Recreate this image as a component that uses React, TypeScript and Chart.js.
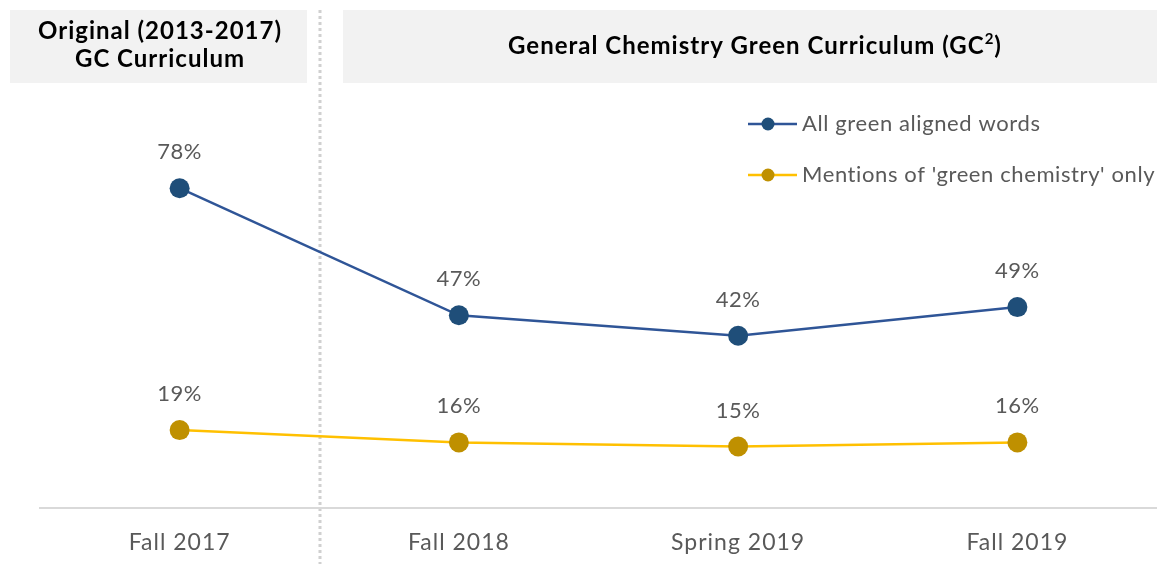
import React, { useEffect, useRef } from "react";
import { Chart, registerables } from "chart.js";

Chart.register(...registerables);

const categories = ["Fall 2017", "Fall 2018", "Spring 2019", "Fall 2019"];
const allGreenWords = [78, 47, 42, 49];
const greenChemistryOnly = [19, 16, 15, 16];
const seriesNames = ["All green aligned words", "Mentions of 'green chemistry' only"];
const headerLeft = ["Original (2013-2017)", "GC Curriculum"];
const headerRight = "General Chemistry Green Curriculum (GC";

const FONT = "Lato, 'Noto Sans', sans-serif";
const LINE_COLORS = ["#2f5597", "#ffc000"];
const MARKER_COLORS = ["#1f4e79", "#bf9000"];

const decorPlugin = {
  id: "decor",
  beforeDraw(chart: any) {
    const ctx = chart.ctx;
    ctx.save();
    // header boxes
    ctx.fillStyle = "#f2f2f2";
    ctx.fillRect(10, 10, 297, 73);
    ctx.fillRect(343, 10, 814, 73);
    ctx.fillStyle = "#000000";
    ctx.letterSpacing = "1px";
    ctx.font = `bold 24px ${FONT}`;
    ctx.textAlign = "center";
    ctx.textBaseline = "middle";
    ctx.fillText(headerLeft[0], 160, 31);
    ctx.fillText(headerLeft[1], 160, 59);
    // right header with superscript
    ctx.textAlign = "left";
    const mainW = ctx.measureText(headerRight).width;
    ctx.font = `bold 15px ${FONT}`;
    const supW = ctx.measureText("2").width;
    ctx.font = `bold 24px ${FONT}`;
    const closeW = ctx.measureText(")").width;
    const total = mainW + supW + closeW;
    const x0 = 755 - total / 2;
    ctx.fillText(headerRight, x0, 46);
    ctx.font = `bold 15px ${FONT}`;
    ctx.fillText("2", x0 + mainW, 39);
    ctx.font = `bold 24px ${FONT}`;
    ctx.fillText(")", x0 + mainW + supW, 46);
    // dotted divider
    ctx.strokeStyle = "#d0d0d0";
    ctx.lineWidth = 3;
    ctx.setLineDash([3, 3]);
    ctx.beginPath();
    ctx.moveTo(320, 10);
    ctx.lineTo(320, 564);
    ctx.stroke();
    ctx.setLineDash([]);
    // legend
    const legendY = [124, 175];
    ctx.letterSpacing = "0.6px";
    ctx.font = `22px ${FONT}`;
    ctx.textBaseline = "middle";
    ctx.textAlign = "left";
    for (let i = 0; i < 2; i++) {
      ctx.strokeStyle = LINE_COLORS[i];
      ctx.lineWidth = 2.5;
      ctx.beginPath();
      ctx.moveTo(748, legendY[i]);
      ctx.lineTo(797, legendY[i]);
      ctx.stroke();
      ctx.fillStyle = MARKER_COLORS[i];
      ctx.beginPath();
      ctx.arc(768, legendY[i], 6.5, 0, Math.PI * 2);
      ctx.fill();
      ctx.fillStyle = "#595959";
      ctx.fillText(seriesNames[i], 802, legendY[i]);
    }
    ctx.restore();
    // letter spacing for axis tick labels
    ctx.letterSpacing = "1px";
  },
  afterDatasetsDraw(chart: any) {
    const ctx = chart.ctx;
    ctx.save();
    ctx.letterSpacing = "0.5px";
    ctx.font = `22px ${FONT}`;
    ctx.fillStyle = "#595959";
    ctx.textAlign = "center";
    ctx.textBaseline = "middle";
    chart.data.datasets.forEach((ds: any, di: number) => {
      const meta = chart.getDatasetMeta(di);
      meta.data.forEach((pt: any, i: number) => {
        ctx.fillText(`${ds.data[i]}%`, pt.x, pt.y - 36);
      });
    });
    ctx.restore();
    ctx.letterSpacing = "0px";
  },
};

export default function App() {
  const ref = useRef<HTMLCanvasElement>(null);
  useEffect(() => {
    if (!ref.current) return;
    const chart = new Chart(ref.current, {
      type: "line",
      data: {
        labels: categories,
        datasets: [
          {
            label: seriesNames[0],
            data: allGreenWords,
            borderColor: LINE_COLORS[0],
            backgroundColor: MARKER_COLORS[0],
            pointBackgroundColor: MARKER_COLORS[0],
            pointBorderColor: MARKER_COLORS[0],
            pointRadius: 10,
            pointBorderWidth: 0,
            borderWidth: 2.5,
            tension: 0,
            clip: false,
          },
          {
            label: seriesNames[1],
            data: greenChemistryOnly,
            borderColor: LINE_COLORS[1],
            backgroundColor: MARKER_COLORS[1],
            pointBackgroundColor: MARKER_COLORS[1],
            pointBorderColor: MARKER_COLORS[1],
            pointRadius: 10,
            pointBorderWidth: 0,
            borderWidth: 2.5,
            tension: 0,
            clip: false,
          },
        ],
      },
      options: {
        animation: false,
        responsive: false,
        layout: { autoPadding: false, padding: { top: 98, left: 40, right: 0, bottom: 0 } },
        plugins: { legend: { display: false }, tooltip: { enabled: false } },
        scales: {
          x: {
            offset: true,
            grid: { display: false, drawTicks: false },
            border: { display: true, color: "#d9d9d9", width: 2 },
            ticks: {
              font: { family: FONT, size: 23 },
              color: "#595959",
              padding: 21,
            },
            afterFit: (s: any) => {
              s.height = 56;
              s.paddingLeft = 0;
              s.paddingRight = 0;
            },
          },
          y: { display: false, min: 0, max: 100 },
        },
      },
      plugins: [decorPlugin],
    });
    return () => chart.destroy();
  }, []);
  return (
    <div style={{ position: "absolute", left: 0, top: 0, width: 1157, height: 564, background: "#fff" }}>
      <canvas ref={ref} width={1157} height={564} style={{ width: 1157, height: 564, display: "block" }} />
    </div>
  );
}
